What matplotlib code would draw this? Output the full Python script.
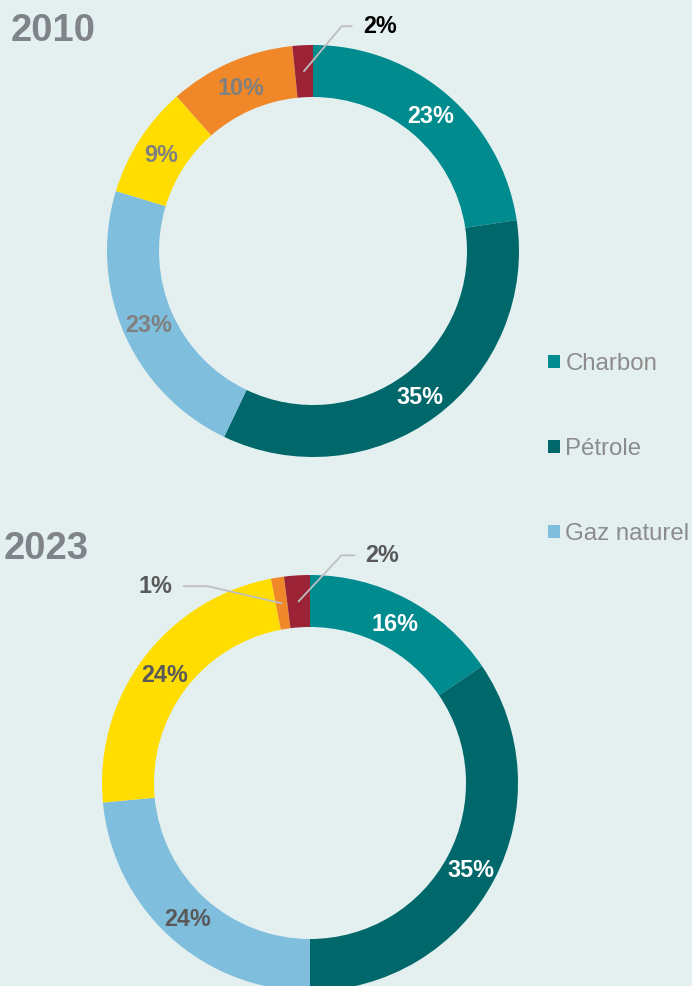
import numpy as np
import matplotlib
matplotlib.use("Agg")
import matplotlib.pyplot as plt
from matplotlib.patches import Patch

plt.rcParams['font.family'] = ['Liberation Sans', 'DejaVu Sans']

# ---- data ----
categories = ["Charbon", "Pétrole", "Gaz naturel", "Nucléaire", "Hydro", "Renouvelables"]
colors = ["#008B8F", "#00676B", "#7FBEDC", "#FFDD00", "#F0882A", "#9B2335"]
years = ["2010", "2023"]
values_2010 = [22.6, 34.5, 22.6, 8.8, 9.9, 1.6]
values_2023 = [15.5, 34.5, 23.5, 23.5, 1.0, 2.0]
legend_categories = ["Charbon", "Pétrole", "Gaz naturel"]

BG = "#E4F0F0"
LEADER = "#BFBFBF"
LABEL_FS = 16.8

def pct(v, total):
    return f"{int(v / total * 100 + 0.5 + 1e-9)}%"

fig = plt.figure(figsize=(6.92, 9.86), dpi=100, facecolor=BG)
ax = fig.add_axes([0, 0, 1, 1])
ax.set_facecolor(BG)

H = 986
RING = 52

def donut(values, center, radius, label_colors, outside):
    wedges, _ = ax.pie(values, colors=colors, startangle=90, counterclock=False,
                       radius=radius, center=center, frame=True,
                       wedgeprops=dict(width=RING, linewidth=0))
    total = sum(values)
    r = radius - RING / 2
    for w, v, lc, out in zip(wedges, values, label_colors, outside):
        ang = np.deg2rad((w.theta1 + w.theta2) / 2)
        x = center[0] + r * np.cos(ang)
        y = center[1] + r * np.sin(ang)
        txt = pct(v, total)
        if out is None:
            ax.text(x, y - 2, txt, ha='center', va='center', color=lc,
                    fontsize=LABEL_FS, fontweight='bold')
        else:
            dx, dy, angB, ha = out
            ax.annotate(txt, xy=(x, y), xytext=(x + dx, y + dy), ha=ha, va='center',
                        color=lc, fontsize=LABEL_FS, fontweight='bold',
                        arrowprops=dict(arrowstyle='-', color=LEADER, lw=1.3,
                                        connectionstyle=f'angle,angleA=0,angleB={angB},rad=0',
                                        relpos=(0 if ha == 'left' else 1, 0.5),
                                        shrinkA=6, shrinkB=0))

g1 = "#808080"
donut(values_2010, (313, H - 251), 206,
      ["white", "white", g1, g1, g1, "black"],
      [None, None, None, None, None, (59, 45, 50, 'left')])

g2 = "#595959"
donut(values_2023, (310, H - 783), 208,
      ["white", "white", g2, g2, g2, g2],
      [None, None, None, None, (-109, 17, -13, 'right'), (67, 46, 47, 'left')])

title_color = "#7F838A"
ax.text(11, H - 31, years[0], ha='left', va='center', fontsize=27.5,
        fontweight='bold', color=title_color)
ax.text(4, H - 549, years[1], ha='left', va='center', fontsize=27.5,
        fontweight='bold', color=title_color)

ax.set_xlim(0, 692)
ax.set_ylim(0, H)
ax.set_aspect('equal')
ax.axis('off')

handles = [Patch(facecolor=colors[categories.index(c)], edgecolor='none') for c in legend_categories]
fig.legend(handles=handles, labels=legend_categories, loc='center left',
           bbox_to_anchor=(548 / 692, 1 - 449 / H), frameon=False, fontsize=17.3,
           labelcolor="#8C8C8C", handlelength=0.5, handleheight=0.5,
           handletextpad=0.22, labelspacing=2.62, borderpad=0, borderaxespad=0)

fig.savefig("out.png", dpi=100, facecolor=BG)
